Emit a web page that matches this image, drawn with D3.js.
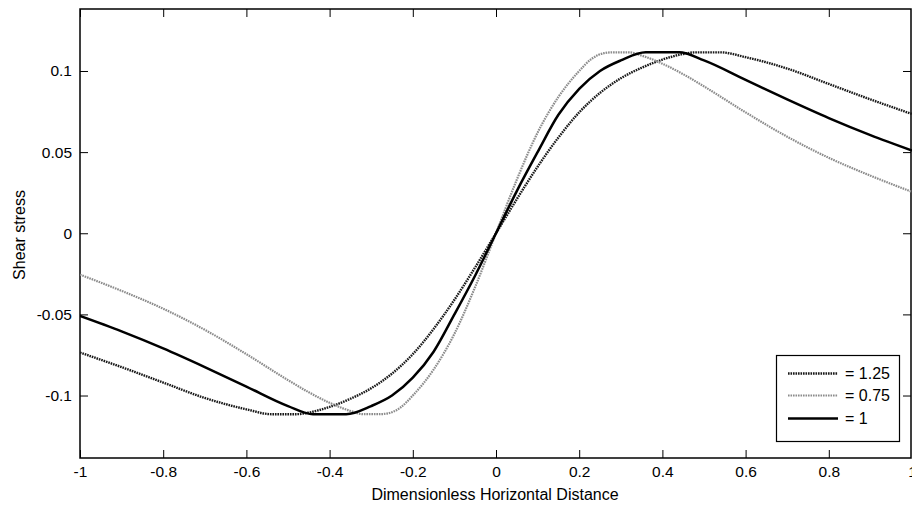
<!DOCTYPE html>
<html>
<head>
<meta charset="utf-8">
<script src="https://cdn.jsdelivr.net/npm/d3@7"></script>
<style>
    body { margin: 0; background: #fff; }
    text { font-family: "Liberation Sans", Arial, sans-serif; }
</style>
</head>
<body>
<div id="plot"></div>
<script>

// values
const xTicks = [-1, -0.8, -0.6, -0.4, -0.2, 0, 0.2, 0.4, 0.6, 0.8, 1];
const xTickLabels = ["-1", "-0.8", "-0.6", "-0.4", "-0.2", "0", "0.2", "0.4", "0.6", "0.8", "1"];
const yTicks = [-0.1, -0.05, 0, 0.05, 0.1];
const yTickLabels = ["-0.1", "-0.05", "0", "0.05", "0.1"];

const seriesNames = ["= 1.25", "= 0.75", "= 1"];

const x125 = [-1, -0.9, -0.8, -0.7, -0.6, -0.54, -0.48, -0.45, -0.4, -0.35, -0.3, -0.25, -0.2, -0.15, -0.1, -0.05, 0,
              0.05, 0.1, 0.15, 0.2, 0.25, 0.3, 0.35, 0.4, 0.45, 0.48, 0.54, 0.6, 0.7, 0.8, 0.9, 1];
const y125 = [-0.0735, -0.0825, -0.092, -0.1015, -0.1085, -0.1115, -0.1115, -0.1105, -0.107, -0.102, -0.0955, -0.0865, -0.0745, -0.059, -0.041, -0.021, 0,
              0.021, 0.041, 0.059, 0.0745, 0.0865, 0.0955, 0.102, 0.107, 0.1105, 0.1115, 0.1115, 0.1085, 0.1015, 0.092, 0.0825, 0.0735];

const x075 = [-1, -0.9, -0.8, -0.7, -0.6, -0.5, -0.45, -0.4, -0.35, -0.32, -0.28, -0.26, -0.23, -0.2, -0.15, -0.1, -0.05, 0,
              0.05, 0.1, 0.15, 0.2, 0.23, 0.26, 0.28, 0.32, 0.35, 0.4, 0.45, 0.5, 0.6, 0.7, 0.8, 0.9, 1];
const y075 = [-0.0255, -0.0355, -0.0465, -0.0595, -0.0745, -0.0905, -0.098, -0.1045, -0.1095, -0.1115, -0.1115, -0.111, -0.1075, -0.100, -0.084, -0.062, -0.033, 0,
              0.033, 0.062, 0.084, 0.100, 0.1075, 0.111, 0.1115, 0.1115, 0.1095, 0.1045, 0.098, 0.0905, 0.0745, 0.0595, 0.0465, 0.0355, 0.0255];

const x100 = [-1, -0.9, -0.8, -0.7, -0.6, -0.5, -0.44, -0.36, -0.3, -0.25, -0.2, -0.15, -0.1, -0.05, 0,
              0.05, 0.1, 0.15, 0.2, 0.25, 0.3, 0.36, 0.44, 0.5, 0.6, 0.7, 0.8, 0.9, 1];
const y100 = [-0.051, -0.0605, -0.071, -0.0825, -0.0945, -0.1065, -0.1115, -0.1115, -0.1065, -0.100, -0.089, -0.073, -0.050, -0.026, 0,
              0.026, 0.050, 0.073, 0.089, 0.100, 0.1065, 0.1115, 0.1115, 0.1065, 0.0945, 0.0825, 0.071, 0.0605, 0.051];

function generate() {
    var dimension = {
        width: 912,
        height: 508,
        margin: { top: 9, left: 80, bottom: 50, right: 0 }
    }
    dimension.boundedWidth = dimension.width - dimension.margin.left - dimension.margin.right;
    dimension.boundedHeight = dimension.height - dimension.margin.top - dimension.margin.bottom;

    const svg = d3.select("#plot").append("svg")
        .attr("width", dimension.width)
        .attr("height", dimension.height);

    const bounded = svg.append("g")
        .attr("transform", `translate(${dimension.margin.left}, ${dimension.margin.top})`);

    // scalers
    const xScaler = d3.scaleLinear()
        .domain([-1, 1])
        .range([0, dimension.boundedWidth]);
    const yScaler = d3.scaleLinear()
        .domain([-0.1385, 0.1382])
        .range([dimension.boundedHeight, 0]);

    // axes, ticks pointing inward, mirrored on top/right
    const fmtX = (d, i) => xTickLabels[i];
    const fmtY = (d, i) => yTickLabels[i];

    const xAxis = bounded.append("g")
        .attr("transform", `translate(0, ${dimension.boundedHeight})`)
        .call(d3.axisBottom(xScaler).tickValues(xTicks).tickFormat(fmtX).tickSizeInner(-8).tickSizeOuter(0).tickPadding(12));
    const xAxisTop = bounded.append("g")
        .call(d3.axisTop(xScaler).tickValues(xTicks).tickFormat("").tickSizeInner(-8).tickSizeOuter(0));
    const yAxis = bounded.append("g")
        .call(d3.axisLeft(yScaler).tickValues(yTicks).tickFormat(fmtY).tickSizeInner(-8).tickSizeOuter(0).tickPadding(8));
    const yAxisRight = bounded.append("g")
        .attr("transform", `translate(${dimension.boundedWidth - 1}, 0)`)
        .call(d3.axisRight(yScaler).tickValues(yTicks).tickFormat("").tickSizeInner(-8).tickSizeOuter(0));

    [xAxis, xAxisTop, yAxis, yAxisRight].forEach(a => {
        a.select(".domain").remove();
        a.selectAll("line").attr("stroke", "#000").attr("stroke-width", 1);
        a.selectAll("text").attr("fill", "#000").style("font-size", "15.5px");
    });
    xAxis.selectAll("text").attr("dy", "0.45em");

    // box
    bounded.append("rect")
        .attr("x", 0)
        .attr("y", 0)
        .attr("width", dimension.boundedWidth - 1)
        .attr("height", dimension.boundedHeight)
        .attr("fill", "none")
        .attr("stroke", "#000")
        .attr("stroke-width", 1.5);

    // clip for the curves
    svg.append("defs").append("clipPath").attr("id", "clip")
        .append("rect")
        .attr("width", dimension.boundedWidth)
        .attr("height", dimension.boundedHeight);

    const line = d3.line()
        .x(d => xScaler(d[0]))
        .y(d => yScaler(d[1]))
        .curve(d3.curveMonotoneX);

    const series = [
        { name: seriesNames[0], data: d3.zip(x125, y125), color: "#1a1a1a", width: 2.4, dash: "1.6,0.9" },
        { name: seriesNames[1], data: d3.zip(x075, y075), color: "#8c8c8c", width: 2.2, dash: "1.6,0.9" },
        { name: seriesNames[2], data: d3.zip(x100, y100), color: "#000", width: 2.5, dash: null }
    ];

    const curves = bounded.append("g").attr("clip-path", "url(#clip)");
    series.forEach(s => {
        curves.append("path")
            .attr("d", line(s.data))
            .attr("fill", "none")
            .attr("stroke", s.color)
            .attr("stroke-width", s.width)
            .attr("stroke-dasharray", s.dash);
    });

    // axis titles
    svg.append("text")
        .attr("x", 495)
        .attr("y", 500)
        .attr("text-anchor", "middle")
        .style("font-size", "16px")
        .text("Dimensionless Horizontal Distance");

    svg.append("text")
        .attr("transform", "translate(25, 235) rotate(-90)")
        .attr("text-anchor", "middle")
        .style("font-size", "16px")
        .text("Shear stress");

    // legend
    const legend = svg.append("g");
    legend.append("rect")
        .attr("x", 776.5)
        .attr("y", 355.5)
        .attr("width", 123)
        .attr("height", 86)
        .attr("fill", "#fff")
        .attr("stroke", "#000")
        .attr("stroke-width", 1.2);

    const rowY = [373.5, 395.5, 418.5];
    series.forEach((s, i) => {
        legend.append("line")
            .attr("x1", 788)
            .attr("x2", 838)
            .attr("y1", rowY[i])
            .attr("y2", rowY[i])
            .attr("stroke", s.color)
            .attr("stroke-width", s.width)
            .attr("stroke-dasharray", s.dash);
        legend.append("text")
            .attr("x", 845)
            .attr("y", rowY[i])
            .attr("dy", "0.36em")
            .style("font-size", "16px")
            .text(s.name);
    });
}

generate()
</script>
</body>
</html>
